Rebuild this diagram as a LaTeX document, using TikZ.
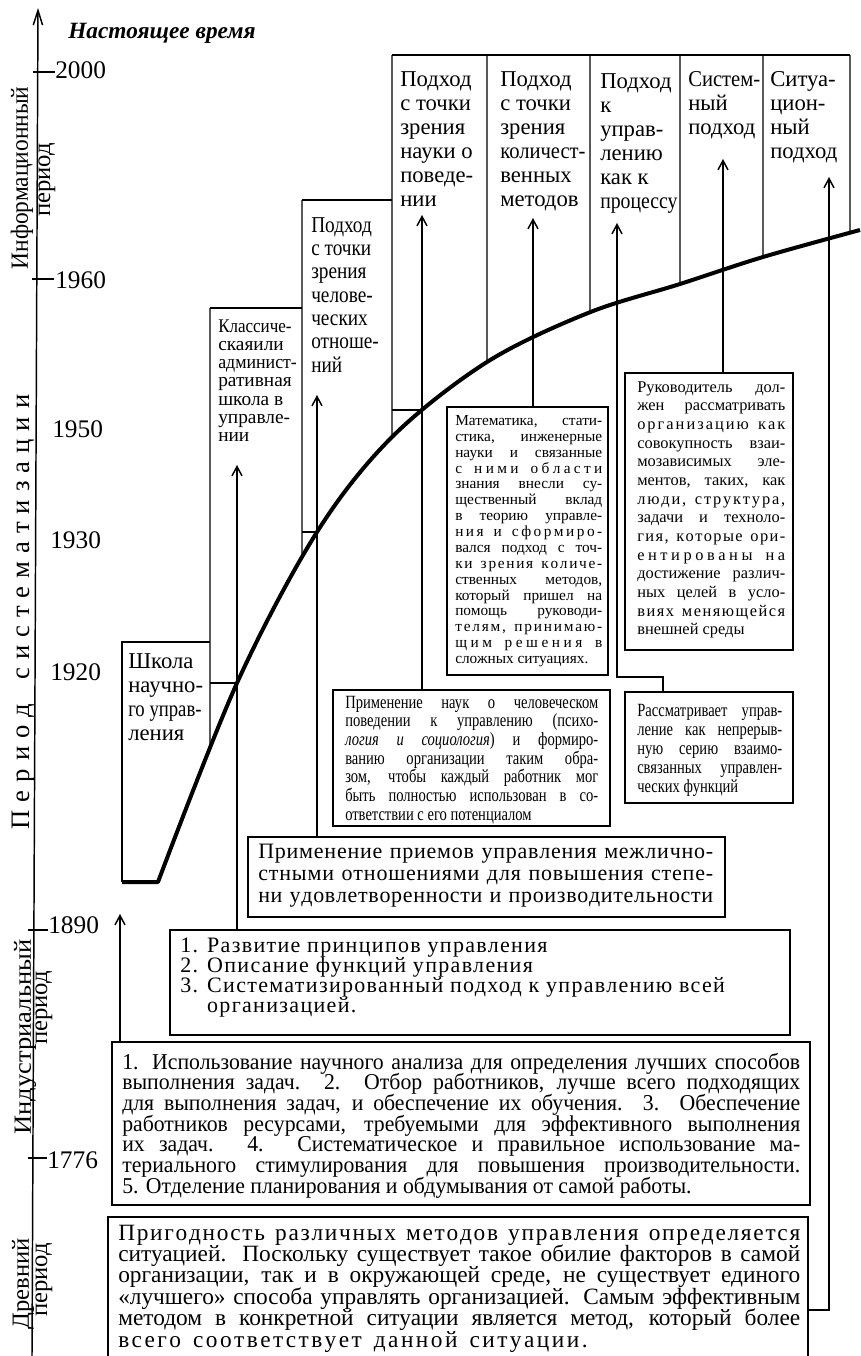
\documentclass[tikz,border=0pt]{standalone}
\usepackage{fontspec}
\usepackage{graphicx}
\setmainfont{Liberation Serif}
\newfontfamily\condfont[FakeStretch=0.85]{Liberation Serif}
\newfontfamily\scifont[FakeStretch=0.96]{Liberation Serif}
\newfontfamily\narrowfont[FakeStretch=0.78]{Liberation Serif}
\newfontfamily\airyfont[LetterSpace=6]{Liberation Serif}
\usetikzlibrary{arrows.meta,intersections,fit}

% font size with fixed leading (lines may sit closer than the glyph boxes)
\newcommand\fsz[2]{\fontsize{#1}{#2}\selectfont\lineskiplimit=-30pt\relax}
% one fully justified line of a paragraph (font's own stretchable spaces)
\newcommand\jl[1]{\makebox[\linewidth][s]{\spaceskip=0pt\xspaceskip=0pt #1}\\}
% squeeze a word to a given width
\newcommand\sq[2]{\resizebox{#1}{\height}{#2}}

% letter-spaced line: the extra room goes between letters as well as words
\ExplSyntaxOn
\seq_new:N \l__spread_words_seq
\cs_new_protected:Npn \__spread_line:n #1
  {
    \hskip -0.25em plus -2.5fil
    \seq_set_split:Nnn \l__spread_words_seq { ~ } { #1 }
    \seq_map_inline:Nn \l__spread_words_seq
      {
        \hskip 0.25em plus 1.5fil
        \tl_map_inline:nn { ##1 } { \hskip 0pt plus 1fil ####1 }
      }
  }
\NewDocumentCommand \spreadto { m m } { \makebox[#1][s]{ \__spread_line:n {#2} } }
\NewDocumentCommand \spl { m } { \makebox[\linewidth][s]{ \__spread_line:n {#1} } \\ }
\ExplSyntaxOff

% point where a vertical line x=#1 meets the growth curve
\newcommand\meetcurve[2]{%
  \path[name path=probe] (#1,0) -- (#1,1000);
  \path[name intersections={of=growth and probe, by=#2}];}

\begin{document}
\begin{tikzpicture}[x=0.75pt,y=-0.75pt,
  thinline/.style={line width=1.1pt},
  growthline/.style={line width=3pt,line join=round},
  uparrow/.style={line width=1.1pt,-{Straight Barb[length=7pt,width=7.5pt]}},
  boxframe/.style={draw,line width=1.1pt,inner sep=0pt},
  txt/.style={inner sep=0pt,anchor=base west,align=justify},
  year/.style={inner sep=0pt,anchor=base west,font=\fsz{19}{19}},
  period/.style={inner sep=0pt,rotate=90,font=\fsz{18.5}{18.5}},
  hdr/.style={txt,font=\fsz{17}{18}},
]
\fill[white] (0,0) rectangle (860,1356);
\useasboundingbox (0,0) rectangle (860,1356);

% ---------- time axis ----------
\coordinate (axisfoot) at (32,1356);
\coordinate (axistop) at (38,8);
\draw[thinline,-{Straight Barb[length=11pt,width=7pt]}] (axisfoot) -- (axistop);
\draw[thinline] (33,72) -- (55,72);
\draw[thinline] (32,279) -- (54,279);
\draw[thinline] (28,930) -- (48,930);
\draw[thinline] (28,1158) -- (47,1158);

\node[year] (y2000) at (55,78) {2000};
\node[year] (y1960) at (55,288) {1960};
\node[year] (y1950) at (52,437) {1950};
\node[year] (y1930) at (50,548) {1930};
\node[year] (y1920) at (50,680) {1920};
\node[year] (y1890) at (48,933) {1890};
\node[year] (y1776) at (47,1168) {1776};

\node[inner sep=0pt,anchor=base west,font=\fsz{17.5}{18}\bfseries\itshape] (now) at (68,38) {Настоящее время};

\node[period] (pInfo) at (22,178) {\sq{137pt}{Информационный}};
\node[period] (pInfoB) at (47,180) {период};
\node[period,font=\fsz{20}{20}] (pSys) at (24,612) {\makebox[326pt][s]{П\hfill е\hfill р\hfill и\hfill о\hfill д\hfill\hfill\hfill с\hfill и\hfill с\hfill т\hfill е\hfill м\hfill а\hfill т\hfill и\hfill з\hfill а\hfill ц\hfill и\hfill и}};
\node[period] (pInd) at (25,1037) {\sq{146pt}{Индустриальный}};
\node[period] (pIndB) at (44,1008) {период};
\node[period] (pAnc) at (23,1284) {Древний};
\node[period] (pAncB) at (44,1280) {период};

% ---------- growth curve ----------
\draw[growthline,name path=growth] (122,882) -- plot[smooth,tension=0.55] coordinates
  {(158,882) (237,683) (317,532) (392,437) (487,362) (588,313) (680,284) (763,257) (860,230)};

\meetcurve{210}{g210}
\meetcurve{237}{g237}
\meetcurve{302}{g302}
\meetcurve{317}{g317}
\meetcurve{392}{g392}
\meetcurve{422}{g422}
\meetcurve{487}{g487}
\meetcurve{590}{g590}
\meetcurve{680}{g680}
\meetcurve{763}{g763}
\meetcurve{850}{g850}
\coordinate (x210) at (210,0);
\coordinate (x302) at (302,0);
\coordinate (x392) at (392,0);

% ---------- school columns ----------
\draw[thinline] (122,882) -- (122,642) -- (210,642);
\draw[thinline] (210,308) -- (302,308);
\draw[thinline] (302,200) -- (392,200);
\draw[thinline] (392,55) -- (850,55);
\draw[thinline] (210,308) -- (g210);
\draw[thinline] (302,200) -- (g302);
\draw[thinline] (392,55) -- (g392);
\draw[thinline] (487,55) -- (g487);
\draw[thinline] (590,55) -- (g590);
\draw[thinline] (680,55) -- (g680);
\draw[thinline] (763,55) -- (g763);
\draw[thinline] (850,55) -- (g850);
\draw[thinline] (g237 -| x210) -- (g237);
\draw[thinline] (g317 -| x302) -- (g317);
\draw[thinline] (g422 -| x392) -- (g422);

\node[txt,font=\fsz{17}{18},text width=66pt] (hSci) at (128,668)
  {Школа\\научно-\\\sq{55pt}{го управ-}\\ления};
\node[txt,font=\fsz{14.5}{13.7},text width=64pt] (hAdm) at (218,332)
  {\sq{55pt}{Классиче-}\\скаяили\\\sq{59pt}{админист-}\\ративная\\школа в\\управле-\\нии};
\node[txt,font=\condfont\fsz{17}{17.5},text width=64pt] (hHum) at (311,232)
  {Подход\\с точки\\зрения\\челове-\\ческих\\отноше-\\ний};
\node[hdr,text width=70pt] (hBeh) at (400,86)
  {Подход\\с точки\\зрения\\науки о\\поведе-\\нии};
\node[hdr,text width=70pt] (hQuant) at (500,86)
  {Подход\\с точки\\зрения\\\sq{64pt}{количест-}\\венных\\методов};
\node[hdr,text width=66pt] (hProc) at (600,88)
  {Подход\\к\\управ-\\лению\\как к\\\sq{58pt}{процессу}};
\node[hdr,text width=60pt] (hSys) at (688,86)
  {\sq{54pt}{Систем-}\\ный\\подход};
\node[hdr,text width=62pt] (hSit) at (770,86)
  {Ситуа-\\цион-\\ный\\подход};

% ---------- description boxes ----------
\node[boxframe,fit={(447,407) (608,675)}] (bMath) {};
\node[boxframe,fit={(625,373) (793,650)}] (bSys) {};
\node[boxframe,fit={(333,690) (610,826)}] (bBeh) {};
\node[boxframe,fit={(625,692) (793,803)}] (bProc) {};
\node[boxframe,fit={(248,837) (725,917)}] (bHum) {};
\node[boxframe,fit={(170,930) (790,1035)}] (bAdm) {};
\node[boxframe,fit={(112,1042) (810,1205)}] (bSci) {};
\node[boxframe,fit={(108,1217) (808,1380)}] (bSit) {};

\node[txt,font=\fsz{11.5}{11.9},text width=110.25pt] (tMath) at (455,425.5) {%
\jl{Математика, стати-}
\jl{стика, инженерные}
\jl{науки и связанные}
\spl{с ними области}
\jl{знания внесли су-}
\jl{щественный вклад}
\jl{в теорию управле-}
\spl{ния и сформиро-}
\jl{вался подход с точ-}
\spl{ки зрения количе-}
\jl{ственных методов,}
\jl{который пришел на}
\jl{помощь руководи-}
\spl{телям, принимаю-}
\spl{щим решения в}
сложных ситуациях.};

\node[txt,font=\fsz{12.3}{14},text width=111pt] (tSys) at (637,392) {%
\jl{Руководитель дол-}
\jl{жен рассматривать}
\spl{организацию как}
\jl{совокупность взаи-}
\jl{мозависимых эле-}
\jl{ментов, таких, как}
\spl{люди, структура,}
\jl{задачи и техноло-}
\spl{гия, которые ори-}
\spl{ентированы на}
\jl{достижение различ-}
\jl{ных целей в усло-}
\spl{виях меняющейся}
внешней среды};

\node[txt,font=\narrowfont\fsz{14}{14},text width=189.75pt] (tBeh) at (345,708) {%
\jl{Применение наук о человеческом}
\jl{поведении к управлению (психо-}
\jl{\textit{логия и социология}) и формиро-}
\jl{ванию организации таким обра-}
\jl{зом, чтобы каждый работник мог}
\jl{быть полностью использован в со-}
ответствии с его потенциалом};

\node[txt,font=\narrowfont\fsz{14}{14.25},text width=108.75pt] (tProc) at (637,716) {%
\jl{Рассматривает управ-}
\jl{ление как непрерыв-}
\jl{ную серию взаимо-}
\jl{связанных управлен-}
ческих функций};

\node[txt,font=\fsz{16.5}{16.5},text width=341.25pt] (tHum) at (258,858) {%
\spl{Применение приемов управления межлично-}
\spl{стными отношениями для повышения степе-}
\spl{ни удовлетворенности и производительности}};

\node[txt,font=\airyfont\fsz{16.5}{15},text width=450pt] (tAdm) at (180,952) {%
1. Развитие принципов управления\\
2. Описание функций управления\\
3. Систематизированный подход к управлению всей\\
\hphantom{3. }организацией.};

\node[txt,font=\scifont\fsz{17}{15.5},text width=508.5pt] (tSci) at (122,1069) {%
\jl{1. Использование научного анализа для определения лучших способов}
\jl{выполнения задач. 2. Отбор работников, лучше всего подходящих}
\jl{для выполнения задач, и обеспечение их обучения. 3. Обеспечение}
\jl{работников ресурсами, требуемыми для эффективного выполнения}
\jl{их задач. 4. Систематическое и правильное использование ма-}
\jl{териального стимулирования для повышения производительности.}
5. Отделение планирования и обдумывания от самой работы.};

\node[txt,font=\fsz{17.5}{16.1},text width=511.5pt] (tSit) at (118,1240) {%
\spl{Пригодность различных методов управления определяется}
\jl{ситуацией. Поскольку существует такое обилие факторов в самой}
\jl{организации, так и в окружающей среде, не существует единого}
\jl{«лучшего» способа управлять организацией. Самым эффективным}
\jl{методом в конкретной ситуации является метод, который более}
\spreadto{352pt}{всего соответствует данной ситуации.}};

% ---------- arrows from descriptions to schools ----------
\coordinate (tipSci) at (120,914);
\coordinate (tipAdm) at (237,465);
\coordinate (tipHum) at (317,395);
\coordinate (tipBeh) at (422,215);
\coordinate (tipMath) at (533,218);
\coordinate (tipProc) at (617,223);
\coordinate (tipSys) at (723,159);
\coordinate (tipSit) at (829,177);
\coordinate (bendProc) at (663,677);
\coordinate (bendSit) at (829,1310);

\draw[uparrow] (tipSci |- bSci.north) -- (tipSci);
\draw[uparrow] (tipAdm |- bAdm.north) -- (tipAdm);
\draw[uparrow] (tipHum |- bHum.north) -- (tipHum);
\draw[uparrow] (tipBeh |- bBeh.north) -- (tipBeh);
\draw[uparrow] (tipMath |- bMath.north) -- (tipMath);
\draw[uparrow] (bendProc |- bProc.north) -- (bendProc) -| (tipProc);
\draw[uparrow] (tipSys |- bSys.north) -- (tipSys);
\draw[uparrow] (bendSit -| bSit.east) -- (bendSit) -- (tipSit);
\end{tikzpicture}
\end{document}
